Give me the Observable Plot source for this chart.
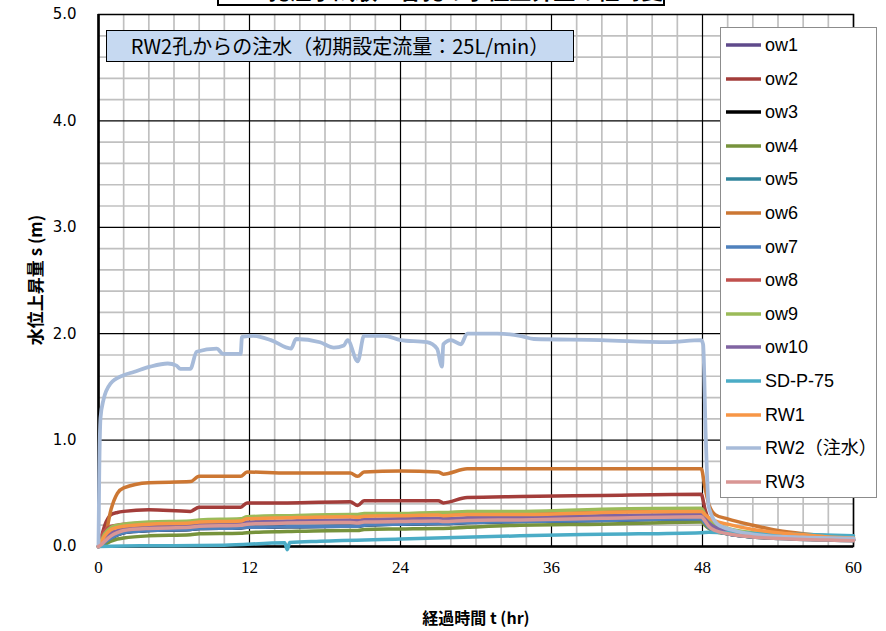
<!DOCTYPE html>
<html><head><meta charset="utf-8">
<script src="https://cdn.jsdelivr.net/npm/d3@7"></script>
<script src="https://cdn.jsdelivr.net/npm/@observablehq/plot@0.6"></script>
<style>
html,body{margin:0;padding:0;background:#fff;}
#wrap{position:relative;width:886px;height:631px;overflow:hidden;background:#fff;}
#wrap > svg{position:absolute;left:0;top:0;}
.ov{position:absolute;}
#title{left:217px;top:-30px;width:444px;height:32px;border:2px solid #000;background:#fff;font:bold 22px "Noto Sans CJK JP";text-align:center;line-height:34px;white-space:nowrap;overflow:hidden;}
#note{left:106px;top:30px;width:466px;height:30px;border:1.5px solid #000;background:#c6d9f1;font:20px "Noto Sans CJK JP";text-align:center;line-height:30px;white-space:nowrap;}
#legend{left:720px;top:27px;width:155px;height:469px;border:1px solid #8c8c8c;background:#fff;}
.li{position:absolute;left:4px;height:22px;font:18px "Liberation Sans","Noto Sans CJK JP";white-space:nowrap;line-height:22px;display:flex;align-items:center;}
.li svg{display:block;margin-right:3px;}
#ylab{left:34px;top:280px;transform:translate(-50%,-50%) rotate(-90deg);font:bold 17px "Noto Sans CJK JP";white-space:nowrap;}
#xlab{left:476px;top:617px;transform:translate(-50%,-50%);font:bold 16px "Noto Sans CJK JP";white-space:nowrap;}
</style></head>
<body><div id="wrap"></div>
<script>
// ---- data ----
const xTicks = [0, 12, 24, 36, 48, 60];
const yTicks = [0, 1, 2, 3, 4, 5];
const seriesNames = ["ow1","ow2","ow3","ow4","ow5","ow6","ow7","ow8","ow9","ow10","SD-P-75","RW1","RW2（注水）","RW3"];
const seriesColors = ["#5f4a8b","#a33d3a","#000000","#77933c","#31859c","#cc7733","#4f81bd","#c0504d","#9bbb59","#8064a2","#4bacc6","#f79646","#a7bbd9","#d99694"];

const tHours = [0, 0.25, 0.5, 1, 1.5, 2, 4, 7.3, 8, 11.3, 11.8, 15, 20, 20.6, 21.1, 24, 27, 27.4, 29.3, 33.5, 40, 47.9, 48.2, 48.5, 49, 50, 52, 54, 56, 58, 60];
const ow1  = [0, 0.03, 0.07, 0.12, 0.14, 0.16, 0.18, 0.19, 0.20, 0.21, 0.22, 0.23, 0.24, 0.235, 0.245, 0.25, 0.255, 0.25, 0.26, 0.265, 0.28, 0.29, 0.25, 0.21, 0.17, 0.14, 0.11, 0.09, 0.08, 0.07, 0.065];
const ow2  = [0, 0.10, 0.20, 0.30, 0.32, 0.33, 0.345, 0.33, 0.37, 0.37, 0.41, 0.41, 0.42, 0.385, 0.43, 0.43, 0.43, 0.41, 0.46, 0.47, 0.48, 0.49, 0.35, 0.25, 0.20, 0.16, 0.12, 0.10, 0.085, 0.075, 0.07];
const ow3  = [0, 0.02, 0.04, 0.08, 0.11, 0.13, 0.15, 0.16, 0.17, 0.175, 0.18, 0.185, 0.19, 0.19, 0.20, 0.21, 0.215, 0.215, 0.225, 0.235, 0.245, 0.26, 0.22, 0.18, 0.15, 0.12, 0.09, 0.08, 0.07, 0.065, 0.06];
const ow4  = [0, 0.01, 0.02, 0.05, 0.07, 0.08, 0.10, 0.11, 0.12, 0.125, 0.13, 0.14, 0.15, 0.15, 0.16, 0.165, 0.17, 0.17, 0.18, 0.20, 0.21, 0.23, 0.20, 0.17, 0.14, 0.12, 0.09, 0.08, 0.07, 0.065, 0.06];
const ow5  = [0, 0.02, 0.05, 0.10, 0.13, 0.15, 0.17, 0.18, 0.19, 0.20, 0.21, 0.22, 0.225, 0.22, 0.23, 0.235, 0.24, 0.235, 0.245, 0.25, 0.265, 0.28, 0.24, 0.19, 0.15, 0.12, 0.09, 0.075, 0.065, 0.06, 0.055];
const ow6  = [0, 0.03, 0.08, 0.35, 0.50, 0.55, 0.60, 0.61, 0.66, 0.66, 0.70, 0.69, 0.69, 0.66, 0.70, 0.71, 0.70, 0.68, 0.73, 0.73, 0.73, 0.73, 0.55, 0.40, 0.30, 0.26, 0.20, 0.15, 0.12, 0.10, 0.085];
const ow7  = [0, 0.02, 0.04, 0.08, 0.11, 0.13, 0.15, 0.16, 0.17, 0.175, 0.18, 0.185, 0.19, 0.19, 0.20, 0.21, 0.215, 0.215, 0.225, 0.235, 0.245, 0.26, 0.22, 0.18, 0.15, 0.12, 0.09, 0.08, 0.07, 0.065, 0.06];
const ow8  = [0, 0.10, 0.15, 0.19, 0.20, 0.21, 0.22, 0.23, 0.24, 0.25, 0.27, 0.28, 0.29, 0.28, 0.30, 0.30, 0.31, 0.30, 0.32, 0.32, 0.33, 0.34, 0.29, 0.24, 0.20, 0.16, 0.12, 0.10, 0.085, 0.075, 0.07];
const ow9  = [0, 0.06, 0.12, 0.18, 0.20, 0.21, 0.23, 0.24, 0.25, 0.26, 0.28, 0.29, 0.30, 0.30, 0.31, 0.31, 0.32, 0.32, 0.33, 0.33, 0.35, 0.36, 0.30, 0.25, 0.21, 0.17, 0.13, 0.11, 0.09, 0.08, 0.075];
const ow10 = [0, 0.04, 0.08, 0.13, 0.15, 0.17, 0.19, 0.20, 0.21, 0.22, 0.23, 0.24, 0.25, 0.245, 0.255, 0.26, 0.265, 0.26, 0.27, 0.275, 0.29, 0.30, 0.26, 0.22, 0.18, 0.15, 0.11, 0.09, 0.08, 0.07, 0.065];
const rw1  = [0, 0.05, 0.10, 0.16, 0.18, 0.19, 0.21, 0.22, 0.23, 0.24, 0.26, 0.27, 0.28, 0.275, 0.285, 0.29, 0.295, 0.29, 0.30, 0.30, 0.32, 0.33, 0.30, 0.27, 0.24, 0.21, 0.16, 0.13, 0.11, 0.09, 0.08];
const rw3  = [0, 0.02, 0.05, 0.10, 0.13, 0.15, 0.17, 0.18, 0.19, 0.20, 0.21, 0.22, 0.225, 0.22, 0.23, 0.235, 0.24, 0.235, 0.245, 0.25, 0.265, 0.28, 0.24, 0.19, 0.15, 0.12, 0.09, 0.075, 0.065, 0.06, 0.055];

const tSDP = [0, 2, 6, 10, 14.8, 15, 15.2, 17.6, 24, 33.5, 40, 47.9, 48.5, 50, 54, 60];
const sdp  = [0, 0.005, 0.008, 0.012, 0.035, -0.03, 0.037, 0.05, 0.07, 0.10, 0.115, 0.13, 0.135, 0.13, 0.12, 0.10];

const tRW2 = [0, 0.05, 0.16, 0.4, 0.95, 2, 2.8, 4.1, 5.5, 6.2, 6.5, 7.3, 7.8, 9.4, 9.9, 11.3, 11.4, 12.3, 13.7, 15.3, 15.7, 17.6, 18.7, 19.5, 19.8, 20.6, 21.1, 22.7, 24, 26.1, 26.9, 27.3, 27.4, 28, 28.8, 29.3, 31.7, 33.5, 34.6, 39.9, 45.2, 47.9, 48.05, 48.25, 48.5, 49.2, 50.5, 53.1, 56, 60];
const rw2  = [0, 0.6, 1.21, 1.38, 1.53, 1.61, 1.64, 1.69, 1.72, 1.70, 1.67, 1.67, 1.83, 1.86, 1.81, 1.81, 1.97, 1.98, 1.94, 1.86, 1.95, 1.92, 1.87, 1.89, 1.94, 1.74, 1.98, 1.98, 1.94, 1.92, 1.86, 1.69, 1.90, 1.94, 1.90, 2.00, 2.00, 1.98, 1.95, 1.94, 1.92, 1.94, 1.90, 1.06, 0.37, 0.21, 0.15, 0.10, 0.085, 0.075];

const seriesT = [tHours,tHours,tHours,tHours,tHours,tHours,tHours,tHours,tHours,tHours,tSDP,tHours,tRW2,tHours];
const seriesV = [ow1,ow2,ow3,ow4,ow5,ow6,ow7,ow8,ow9,ow10,sdp,rw1,rw2,rw3];

// ---- chart ----
const rows = seriesNames.map((name, i) => seriesT[i].map((t, j) => ({name, t, v: seriesV[i][j]})));
const minorX = d3.range(0, 61, 2).filter(d => d % 12 !== 0);
const minorY = d3.range(0, 5.01, 0.2).map(d => +d.toFixed(1)).filter(d => Math.abs(d - Math.round(d)) > 1e-6);

const chart = Plot.plot({
  width: 886, height: 631,
  marginLeft: 98, marginRight: 33, marginTop: 14, marginBottom: 85,
  style: {fontFamily: "Liberation Sans", background: "transparent"},
  x: {domain: [0, 60]},
  y: {domain: [0, 5]},
  marks: [
    Plot.ruleX(minorX, {stroke: "#c0c0c0", strokeWidth: 1.7}),
    Plot.ruleY(minorY, {stroke: "#c0c0c0", strokeWidth: 1.7}),
    Plot.ruleX(xTicks, {stroke: "#000", strokeWidth: 1.2}),
    Plot.ruleY(yTicks, {stroke: "#000", strokeWidth: 1.2}),
    Plot.frame({stroke: "#000", strokeWidth: 1.5}),
    Plot.ruleX([0], {stroke: "#000", strokeWidth: 2.5}),
    Plot.ruleY([0], {stroke: "#000", strokeWidth: 2.5}),
    ...rows.map((r, i) => Plot.line(r, {x: "t", y: "v", stroke: seriesColors[i], strokeWidth: i === 12 ? 3.8 : 3.5, strokeLinejoin: "round", curve: "monotone-x"})),
    Plot.axisX(xTicks, {tickSize: 0, tickPadding: 14, fontSize: 17, fontFamily: "Liberation Sans Narrow", fill: "#000", label: null}),
    Plot.axisY(yTicks, {tickSize: 0, tickPadding: 22, fontSize: 15, fontFamily: "DejaVu Sans", fill: "#000", tickFormat: d3.format(".1f"), label: null})
  ]
});
const wrap = document.getElementById("wrap");
wrap.appendChild(chart);

function addDiv(id, text) {
  const d = document.createElement("div");
  d.className = "ov"; d.id = id; d.textContent = text;
  wrap.appendChild(d); return d;
}
addDiv("title", "RW2孔注水試験　各孔の水位上昇量の経時変化");
addDiv("note", "RW2孔からの注水（初期設定流量：25L/min）");
addDiv("ylab", "水位上昇量 s (m)");
addDiv("xlab", "経過時間 t (hr)");

const leg = addDiv("legend", "");
seriesNames.forEach((name, i) => {
  const it = document.createElement("div");
  it.className = "li";
  it.style.top = (6 + i * 33.6) + "px";
  it.innerHTML = `<svg width="37" height="6"><line x1="1" y1="3" x2="36" y2="3" stroke="${seriesColors[i]}" stroke-width="3.5"/></svg>`;
  it.appendChild(document.createTextNode(name));
  leg.appendChild(it);
});
</script></body></html>
